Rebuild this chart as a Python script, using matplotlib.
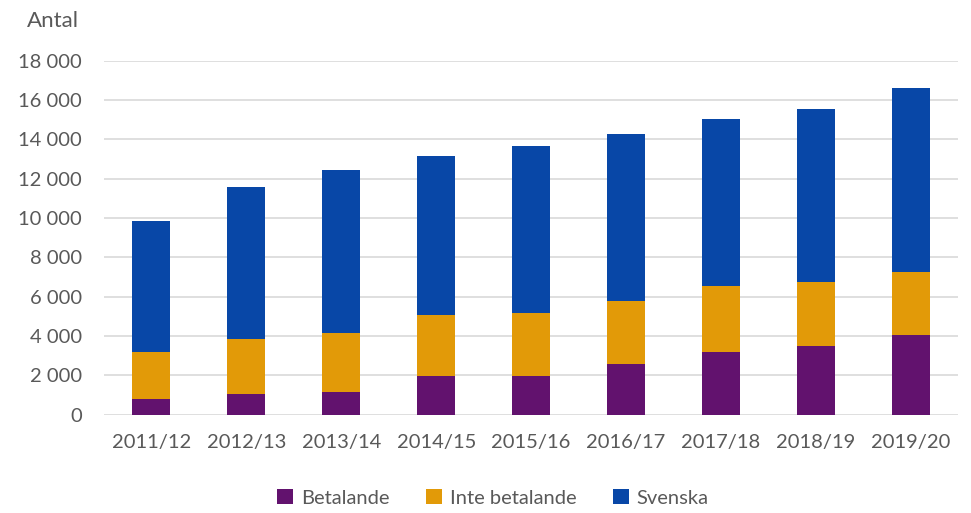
import matplotlib.pyplot as plt
import numpy as np
from matplotlib.ticker import FuncFormatter

years = ['2011/12', '2012/13', '2013/14', '2014/15', '2015/16',
         '2016/17', '2017/18', '2018/19', '2019/20']
# cumulative tops
betalande_top = [810, 1050, 1170, 1990, 1990, 2600, 3170, 3510, 4070]
inte_top = [3170, 3870, 4150, 5090, 5190, 5770, 6530, 6760, 7250]
total_top = [9870, 11600, 12450, 13150, 13650, 14250, 15050, 15550, 16600]

betalande = np.array(betalande_top)
inte_betalande = np.array(inte_top) - np.array(betalande_top)
svenska = np.array(total_top) - np.array(inte_top)

plt.rcParams['font.family'] = ['Lato', 'DejaVu Sans']
text_color = '#595959'
fs = 14.5

fig = plt.figure(figsize=(9.71, 5.13), dpi=100)
ax = fig.add_axes([0.107, 0.1916, 0.88, 0.69])

x = np.arange(len(years))
w = 0.4
ax.bar(x, betalande, w, color='#62126E', label='Betalande', zorder=3)
ax.bar(x, inte_betalande, w, bottom=betalande, color='#E29A08',
       label='Inte betalande', zorder=3)
ax.bar(x, svenska, w, bottom=betalande + inte_betalande, color='#0847A7',
       label='Svenska', zorder=3)

ax.set_ylim(0, 18000)
ax.set_xlim(-0.5, len(years) - 0.5)
ax.set_yticks(np.arange(0, 18001, 2000))
ax.yaxis.set_major_formatter(FuncFormatter(lambda v, p: f'{int(v):,}'.replace(',', ' ')))
ax.set_xticks(x)
ax.set_xticklabels(years)
ax.grid(axis='y', color='#D9D9D9', linewidth=1.2, zorder=0)
for s in ax.spines.values():
    s.set_visible(False)
ax.tick_params(length=0, labelsize=fs, colors=text_color)
ax.tick_params(axis='y', pad=16)
ax.tick_params(axis='x', pad=14)

fig.text(0.028, 0.96, 'Antal', fontsize=16, color=text_color, va='center')

leg = ax.legend(loc='center', bbox_to_anchor=(0.455, -0.235), ncol=3, frameon=False,
                fontsize=fs, handlelength=0.8, handleheight=0.8, columnspacing=1.8,
                handletextpad=0.4)
for t in leg.get_texts():
    t.set_color(text_color)

fig.savefig('out.png', dpi=100)
